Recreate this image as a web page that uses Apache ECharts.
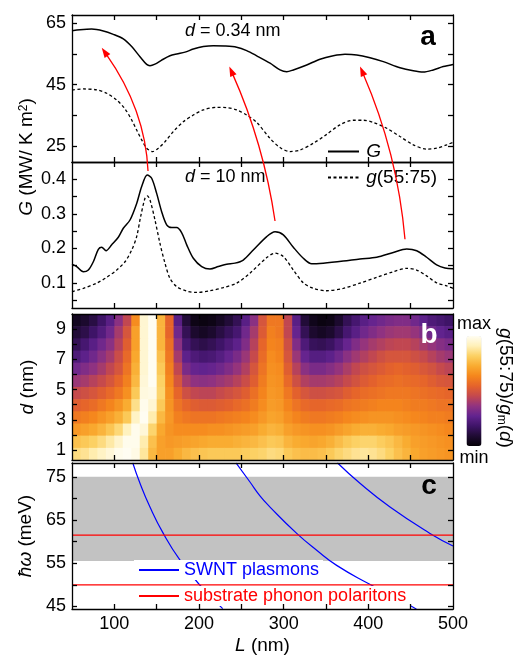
<!DOCTYPE html>
<html>
<head>
<meta charset="utf-8">
<title>G, g(55:75) and plasmon dispersion</title>
<script src="https://cdn.jsdelivr.net/npm/echarts@6/dist/echarts.min.js"></script>
<style>
  html, body { margin: 0; padding: 0; background: #fff; }
  #main { width: 518px; height: 656px; }
</style>
</head>
<body>
<div id="main"></div>
<script>
// ---- values ----
// panel a, d = 0.34 nm
var topSolidL = [50,59.4,73.2,87,98.8,110.6,120.5,130.3,138.2,142.1,148,155.9,165.7,173.6,183.5,193.3,205.1,216.9,230.7,244.5,256.3,268.2,283.9,295.7,303.6,311.4,327.2,342.9,358.6,372.4,386.3,402,417.7,437.4,453.1,464.9,476.7,488.5,500];
var topSolidG = [62.6,62.9,63.1,62.5,61.4,59.9,57.4,54.1,51.6,51.2,51.7,53.0,54.4,55.0,55.6,56.6,57.4,57.7,57.6,57.2,56.1,54.4,52.0,49.8,49.2,49.8,51.4,53.3,54.4,54.9,54.7,53.8,52.5,50.5,49.5,49.1,49.8,50.9,51.6];
var topDashL = [50,63.4,79.2,91,102.8,112.6,120.5,126.4,132.3,138.2,145.3,151.9,159.8,169.6,181.4,193.3,205.1,220.9,232.7,244.5,256.3,268.2,283.9,295.7,307.5,319.3,335,350.8,366.5,382.2,394.1,405.9,421.7,437.4,453.1,468.9,480.7,492.6,500];
var topDashG = [43.3,43.6,43.3,42.2,40.0,37.1,33.5,30.2,27.0,24.3,23.2,24.3,26.4,29.7,32.9,35.1,36.8,37.6,37.5,36.8,35.1,32.7,27.5,24.5,23.2,23.7,25.9,28.8,31.9,33.4,33.4,32.7,30.8,28.1,25.4,24.0,24.3,25.4,26.2];
// panel a, d = 10 nm
var lowSolidL = [50,55.5,63.4,69.3,75.2,81.1,85.1,90.2,96.9,104.7,110.6,118.5,126.4,132.3,138.9,144.1,150,155.9,161.8,167.7,173.6,179.6,185.5,193.3,203.2,213,222.8,232.7,242.5,252.3,264.1,280,289.8,299.6,311.4,323.2,333.1,346.8,370.4,390.1,409.9,429.5,445.3,457.1,468.9,480.7,490.5,500];
var lowSolidG = [0.154,0.147,0.132,0.137,0.161,0.197,0.203,0.193,0.210,0.232,0.258,0.282,0.330,0.379,0.412,0.403,0.359,0.306,0.268,0.260,0.260,0.245,0.210,0.171,0.147,0.140,0.147,0.154,0.157,0.166,0.195,0.234,0.248,0.239,0.203,0.171,0.155,0.157,0.163,0.169,0.174,0.188,0.198,0.193,0.174,0.152,0.143,0.141];
var lowDashL = [50,63.4,79.2,91,102.8,112.6,120.5,126.4,131.1,136.2,138.9,142.1,148,153.9,159.8,165.7,173.6,185.5,197.2,213,228.7,244.5,260.2,280,289.8,299.6,311.4,323.2,335,350.8,370.4,390.1,409.9,429.5,445.3,457.1,468.9,480.7,492.6,500];
var lowDashG = [0.074,0.084,0.099,0.116,0.137,0.161,0.195,0.234,0.292,0.345,0.352,0.340,0.282,0.214,0.157,0.113,0.089,0.076,0.072,0.077,0.086,0.099,0.128,0.173,0.186,0.176,0.137,0.100,0.084,0.077,0.084,0.099,0.116,0.132,0.142,0.137,0.120,0.100,0.091,0.084];

// panel b, g(55:75)/g_m(d) on a 0..10 scale (rows top -> bottom)
var heatL = [55,65,75,85,95,105,115,125,135,145,155,165,175,185,195,205,215,225,235,245,255,265,275,285,295,305,315,325,335,345,355,365,375,385,395,405,415,425,435,445,455,465,475,485,495];
var heatD = [9.60,8.79,7.99,7.18,6.38,5.57,4.77,3.96,3.16,2.35,1.55,0.74];
var heatRows = [
  [0.5,0.8,1.2,1.8,2.5,3.5,4.5,6.5,9.5,10,7.5,5.5,2.5,1,0.3,0.2,0.3,0.6,1,1.5,2.5,3.5,5,6,6,4.5,2.5,1,0.4,0.2,0.3,0.8,1.5,2,2.5,2.8,3,3.2,3.3,3.3,3,2.6,2.2,2,1.8],
  [1,1.3,1.8,2.3,3,4,5,7,9.5,10,7.5,5.5,3,1.5,0.8,0.6,0.8,1.2,1.6,2,3,4,5.2,6.2,6,4.5,2.8,1.5,0.8,0.6,0.8,1.3,2,2.5,3,3.3,3.6,3.8,3.9,3.9,3.7,3.3,3,2.7,2.5],
  [1.5,2,2.5,3,3.5,4.3,5.3,7,9.5,10,7.5,5.8,3.5,2,1.5,1.3,1.5,1.8,2.2,2.6,3.3,4.3,5.5,6.3,6.2,4.8,3.3,2.2,1.6,1.5,1.7,2.2,2.8,3.3,3.7,4,4.2,4.4,4.5,4.5,4.3,4,3.7,3.4,3.2],
  [2.2,2.6,3,3.5,4,4.7,5.6,7.2,9.5,10,7.8,6,4,2.6,2.2,2,2.1,2.4,2.8,3.2,3.8,4.6,5.7,6.5,6.3,5,3.8,2.8,2.4,2.4,2.6,3,3.5,3.9,4.2,4.5,4.8,5,5,5,4.8,4.6,4.3,4,3.8],
  [3,3.3,3.6,4,4.5,5,5.9,7.4,9.5,10,8,6.2,4.5,3.2,2.8,2.7,2.8,3,3.3,3.7,4.2,5,5.9,6.6,6.5,5.3,4.3,3.5,3.2,3.2,3.4,3.7,4.1,4.5,4.8,5,5.2,5.4,5.5,5.4,5.3,5.1,4.9,4.6,4.4],
  [3.8,4,4.3,4.6,5,5.5,6.2,7.6,9.6,10,8.2,6.4,5,4,3.6,3.5,3.6,3.8,4,4.3,4.7,5.3,6.1,6.7,6.6,5.6,4.8,4.2,4,4,4.1,4.3,4.6,4.9,5.2,5.4,5.6,5.7,5.8,5.7,5.6,5.5,5.3,5.1,5],
  [4.6,4.8,5,5.3,5.6,6,6.6,8,9.7,9.8,8.3,6.6,5.5,4.8,4.5,4.4,4.4,4.6,4.8,5,5.3,5.8,6.3,6.8,6.7,6,5.4,5,4.8,4.8,4.9,5,5.3,5.5,5.7,5.8,5.9,6,6,6,5.9,5.8,5.7,5.6,5.5],
  [5.3,5.5,5.7,6,6.3,6.7,7.3,8.6,9.9,9.5,8,6.7,5.9,5.5,5.3,5.2,5.2,5.3,5.4,5.6,5.8,6.1,6.5,6.9,6.8,6.3,5.9,5.6,5.5,5.5,5.6,5.7,5.9,6,6.1,6.2,6.3,6.3,6.3,6.2,6.1,6.1,6,5.9,5.9],
  [6,6.2,6.4,6.7,7,7.4,8,9.3,10,9,7.6,6.8,6.2,6,5.9,5.9,5.9,6,6.1,6.2,6.3,6.5,6.8,7.1,7,6.6,6.3,6.1,6,6,6.1,6.2,6.4,6.5,6.6,6.7,6.7,6.7,6.6,6.5,6.4,6.3,6.2,6.2,6.1],
  [6.8,7,7.2,7.5,7.9,8.4,9.2,9.9,9.6,8.3,7.2,6.7,6.5,6.5,6.5,6.5,6.6,6.6,6.7,6.8,6.9,7,7.3,7.5,7.4,7,6.8,6.7,6.6,6.6,6.7,6.9,7.1,7.3,7.4,7.4,7.3,7.2,7,6.9,6.8,6.7,6.6,6.5,6.4],
  [7.8,8,8.2,8.5,8.9,9.4,9.9,9.9,9,7.8,7,6.8,6.9,7,7.1,7.2,7.3,7.3,7.3,7.4,7.5,7.6,7.8,8,7.9,7.5,7.3,7.2,7.1,7.2,7.4,7.7,8,8.2,8.3,8.3,8.1,7.9,7.6,7.3,7,6.9,6.8,6.7,6.6],
  [8.5,8.7,9,9.3,9.6,9.9,10,9.8,8.8,7.6,7,7,7.3,7.6,7.8,7.9,8,8,8,8,8.1,8.2,8.3,8.5,8.4,8,7.8,7.7,7.7,7.8,8,8.3,8.5,8.7,8.8,8.7,8.5,8.2,7.8,7.5,7.2,7,6.9,6.8,6.7]
];
var cellW = 10, cellH = 0.805;

// panel c
var plasmon1L = [121.7,130.3,142.1,157.8,177.6,201.2,228];
var plasmon1W = [78.25,73.5,68.0,61.9,55.7,49.9,44.5];
var plasmon2L = [243.7,260.2,272,283.9,315.4,339,362.6,400,453,459];
var plasmon2W = [78.25,73.8,70.6,68.0,61.9,58,54.5,50.3,44.8,44];
var plasmon3L = [363.4,390.1,425.6,472.8,500];
var plasmon3W = [78.25,73.5,68.0,61.9,59.0];
var phononW = [61.5, 50];
var bandW = [55.5, 75];

// red arrows: start on the d=10 curve, bend through a control point, end in the d=0.34 panel
var arrowFrom = [[139.8,0.424],[289.8,0.279],[443.3,0.226]];
var arrowVia  = [[136.5,36.9],[276.5,25.7],[434.4,22.8]];
var arrowTo   = [[85.1,57.0],[235.8,50.9],[390.2,50.9]];

var xTicks = [100,150,200,250,300,350,400,450];
var xLabels = [100,200,300,400,500];

function zip(a, b) { return a.map(function (v, i) { return [v, b[i]]; }); }

var FONT = 'Liberation Sans, Arial, sans-serif';
var AX = { color: '#000', width: 1.3 };
var ITAL = { fontStyle: 'italic', fontSize: 19, fontFamily: FONT, color: '#000' };
// legend icons: keep only the line sample, hide the marker drawn in its middle
var NO_MARK = { color: 'rgba(0,0,0,0)', borderColor: 'rgba(0,0,0,0)', borderWidth: 0, opacity: 0 };

function xPair(g, withLabels) {
  function one(pos, lab) {
    var a = {
      type: 'value', gridIndex: g, position: pos, min: 50, max: 500, z: 5,
      axisLine: { onZero: false, lineStyle: AX },
      axisTick: { inside: true, length: 5, lineStyle: AX, customValues: xTicks },
      splitLine: { show: false },
      axisLabel: lab ? { customValues: xLabels, fontSize: 18, fontFamily: FONT, color: '#000', margin: 6 } : { show: false }
    };
    if (lab) {
      a.name = '{i|L} (nm)';
      a.nameLocation = 'middle';
      a.nameGap = 27;
      a.nameTextStyle = { fontSize: 19, fontFamily: FONT, color: '#000', rich: { i: ITAL } };
    }
    return a;
  }
  return [one('bottom', withLabels), one('top', false)];
}

function yPair(g, min, max, ticks, labels, name, gap) {
  function one(pos, lab) {
    var a = {
      type: 'value', gridIndex: g, position: pos, min: min, max: max, z: 5,
      axisLine: { onZero: false, lineStyle: AX },
      axisTick: { inside: true, length: 5, lineStyle: AX, customValues: ticks },
      splitLine: { show: false },
      axisLabel: lab ? { customValues: labels, fontSize: 18, fontFamily: FONT, color: '#000', margin: 6 } : { show: false }
    };
    if (lab && name) {
      a.name = name;
      a.nameLocation = 'middle';
      a.nameGap = gap;
      a.nameTextStyle = { fontSize: 19, fontFamily: FONT, color: '#000', rich: { i: ITAL } };
    }
    return a;
  }
  return [one('left', true), one('right', false)];
}

var heatData = [];
heatRows.forEach(function (row, r) {
  row.forEach(function (v, c) { heatData.push([heatL[c], heatD[r], v]); });
});

var solid = { color: '#000', width: 1.5 };
var dashed = { color: '#000', width: 1.3, type: [3, 2.5] };

var option = {
  animation: false,
  backgroundColor: '#fff',
  grid: [
    { left: 72, top: 15, width: 381, height: 147 },
    { left: 72, top: 162, width: 381, height: 146 },
    { left: 72, top: 314, width: 381, height: 146 },
    { left: 72, top: 463, width: 381, height: 146 }
  ],
  xAxis: [].concat(xPair(0, false), xPair(1, false), xPair(2, false), xPair(3, true)),
  yAxis: [].concat(
    yPair(0, 19.8, 67.7, [25,35,45,55,65], [25,45,65]),
    yPair(1, 0.027, 0.45, [0.05,0.1,0.15,0.2,0.25,0.3,0.35,0.4], [0.1,0.2,0.3,0.4]),
    yPair(2, 0.34, 10, [1,2,3,4,5,6,7,8,9], [1,3,5,7,9], '{i|d} (nm)', 35),
    yPair(3, 44.4, 78.2, [45,50,55,60,65,70,75], [45,55,65,75], '{i|ħω} (meV)', 37)
  ),
  visualMap: {
    type: 'continuous', seriesIndex: 4, dimension: 2, min: 0, max: 10,
    calculable: false, orient: 'vertical', left: 457, top: 315, padding: 0,
    itemWidth: 15, itemHeight: 110, text: ['max', 'min'], textGap: 3,
    textStyle: { fontSize: 18, fontFamily: FONT, color: '#000' },
    inRange: { color: ['#050208','#1f0b33','#3f1468','#62238f','#913380','#c4484e','#e5632b','#f5861c','#f9ab30','#fcd062','#fff0b8','#fffdf2'] }
  },
  legend: [
    {
      data: ['G', 'g(55:75)'], orient: 'vertical', left: 327, top: 142, padding: 0,
      itemWidth: 31, itemHeight: 14, itemGap: 7, selectedMode: false,
      itemStyle: NO_MARK,
      formatter: function (n) { return n === 'G' ? '{s| }{i|G}' : '{s| }{i|g}(55:75)'; },
      textStyle: { fontSize: 19, fontFamily: FONT, color: '#000', rich: { i: ITAL, s: { fontSize: 8 } } }
    },
    {
      data: [{ name: 'SWNT plasmons', textStyle: { color: '#0000ff' } }],
      left: 134, top: 560, padding: [1, 4], backgroundColor: '#fff',
      itemWidth: 40, itemHeight: 14, selectedMode: false, itemStyle: NO_MARK,
      textStyle: { fontSize: 18, fontFamily: FONT }
    },
    {
      data: [{ name: 'substrate phonon polaritons', textStyle: { color: '#ff0000' } }],
      left: 134, top: 586, padding: [1, 4], backgroundColor: '#fff',
      itemWidth: 40, itemHeight: 14, selectedMode: false, itemStyle: NO_MARK,
      textStyle: { fontSize: 18, fontFamily: FONT }
    }
  ],
  series: [
    { name: 'G', type: 'line', xAxisIndex: 0, yAxisIndex: 0, symbol: 'none', smooth: 0.3, lineStyle: solid, itemStyle: { color: '#000' }, data: zip(topSolidL, topSolidG) },
    { name: 'g(55:75)', type: 'line', xAxisIndex: 0, yAxisIndex: 0, symbol: 'none', smooth: 0.3, lineStyle: dashed, itemStyle: { color: '#000' }, data: zip(topDashL, topDashG) },
    { name: 'G', type: 'line', xAxisIndex: 2, yAxisIndex: 2, symbol: 'none', smooth: 0.3, lineStyle: solid, itemStyle: { color: '#000' }, data: zip(lowSolidL, lowSolidG) },
    { name: 'g(55:75)', type: 'line', xAxisIndex: 2, yAxisIndex: 2, symbol: 'none', smooth: 0.3, lineStyle: dashed, itemStyle: { color: '#000' }, data: zip(lowDashL, lowDashG) },
    {
      name: 'map', type: 'custom', xAxisIndex: 4, yAxisIndex: 4, clip: true,
      encode: { x: 0, y: 1 },
      renderItem: function (params, api) {
        var p0 = api.coord([api.value(0) - cellW / 2, api.value(1) + cellH / 2]);
        var p1 = api.coord([api.value(0) + cellW / 2, api.value(1) - cellH / 2]);
        return {
          type: 'rect',
          shape: { x: p0[0], y: p0[1], width: p1[0] - p0[0] + 0.7, height: p1[1] - p0[1] + 0.7 },
          style: { fill: api.visual('color') }
        };
      },
      data: heatData
    },
    { name: 'SWNT plasmons', type: 'line', xAxisIndex: 6, yAxisIndex: 6, symbol: 'none', smooth: true, lineStyle: { color: '#0000ff', width: 1.2 }, itemStyle: { color: '#0000ff' }, data: zip(plasmon1L, plasmon1W) },
    { name: 'SWNT plasmons', type: 'line', xAxisIndex: 6, yAxisIndex: 6, symbol: 'none', smooth: true, lineStyle: { color: '#0000ff', width: 1.2 }, itemStyle: { color: '#0000ff' }, data: zip(plasmon2L, plasmon2W) },
    { name: 'SWNT plasmons', type: 'line', xAxisIndex: 6, yAxisIndex: 6, symbol: 'none', smooth: true, lineStyle: { color: '#0000ff', width: 1.2 }, itemStyle: { color: '#0000ff' }, data: zip(plasmon3L, plasmon3W) },
    {
      name: 'substrate phonon polaritons', type: 'line', xAxisIndex: 6, yAxisIndex: 6, symbol: 'none',
      lineStyle: { color: '#ff0000', width: 1.2 }, itemStyle: { color: '#ff0000' },
      data: [[50, phononW[0]], [500, phononW[0]]],
      markArea: { silent: true, itemStyle: { color: '#c2c2c2' }, data: [[{ yAxis: bandW[0] }, { yAxis: bandW[1] }]] }
    },
    {
      name: 'substrate phonon polaritons', type: 'line', xAxisIndex: 6, yAxisIndex: 6, symbol: 'none',
      lineStyle: { color: '#ff0000', width: 1.2 }, itemStyle: { color: '#ff0000' },
      data: [[50, phononW[1]], [500, phononW[1]]]
    }
  ]
};

var chart = echarts.init(document.getElementById('main'));
chart.setOption(option);

function txt(x, y, text, opts) {
  opts = opts || {};
  return {
    type: 'text', x: x, y: y, rotation: opts.rot || 0, z: 20,
    style: {
      text: text, fontSize: opts.size || 19, fontFamily: FONT,
      fontWeight: opts.weight || 'normal', fill: opts.fill || '#000',
      align: opts.align || 'left', verticalAlign: 'middle',
      rich: {
        i: { fontStyle: 'italic', fontSize: opts.size || 19, fontFamily: FONT, fill: '#000' },
        sup: { fontSize: 12, fontFamily: FONT, fill: '#000', verticalAlign: 'top' },
        sub: { fontSize: 12, fontFamily: FONT, fill: '#000', verticalAlign: 'bottom' },
        n: { fontSize: opts.size || 19, fontFamily: FONT, fill: '#000' }
      }
    }
  };
}

var gfx = [
  txt(185, 31, '{i|d} = 0.34 nm', { size: 18 }),
  txt(185, 177, '{i|d} = 10 nm', { size: 18 }),
  txt(428, 37, 'a', { size: 28, weight: 'bold', align: 'center' }),
  txt(429, 335, 'b', { size: 28, weight: 'bold', align: 'center', fill: '#fff' }),
  txt(429, 486, 'c', { size: 28, weight: 'bold', align: 'center' }),
  txt(27, 157, '{i|G}{n| (MW/ K m}{sup|2}{n|)}', { rot: Math.PI / 2, align: 'center' }),
  txt(505, 388, '{i|g}{n|(55:75)/}{i|g}{sub|m}{n|(}{i|d}{n|)}', { rot: -Math.PI / 2, align: 'center' })
];

for (var k = 0; k < arrowFrom.length; k++) {
  var s = chart.convertToPixel({ seriesIndex: 2 }, arrowFrom[k]);
  var c = chart.convertToPixel({ seriesIndex: 0 }, arrowVia[k]);
  var e = chart.convertToPixel({ seriesIndex: 0 }, arrowTo[k]);
  var dx = e[0] - c[0], dy = e[1] - c[1];
  var len = Math.sqrt(dx * dx + dy * dy);
  dx /= len; dy /= len;
  var hl = 10, hw = 3.5;
  var bx = e[0] - dx * hl, by = e[1] - dy * hl;
  gfx.push({
    type: 'bezierCurve', z: 15,
    shape: { x1: s[0], y1: s[1], cpx1: c[0], cpy1: c[1], x2: bx + dx * 2, y2: by + dy * 2 },
    style: { stroke: '#ff0000', lineWidth: 1.3, fill: null }
  });
  gfx.push({
    type: 'polygon', z: 15,
    shape: { points: [[e[0], e[1]], [bx - dy * hw, by + dx * hw], [bx + dy * hw, by - dx * hw]] },
    style: { fill: '#ff0000' }
  });
}

chart.setOption({ graphic: gfx });
</script>
</body>
</html>
